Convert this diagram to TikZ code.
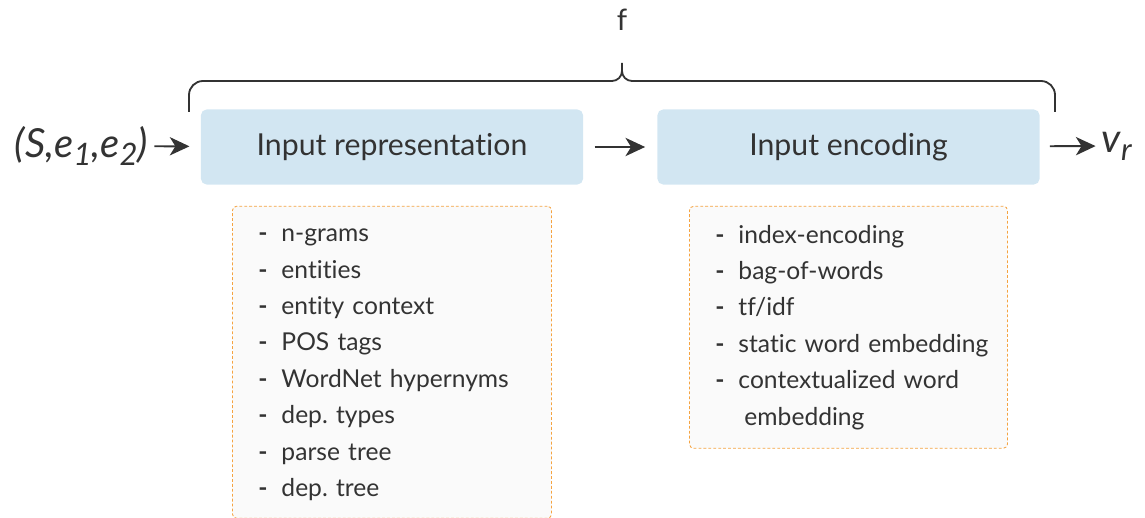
\documentclass[tikz,border=0pt]{standalone}
\usepackage{fontspec}
\setmainfont{Lato}[Ligatures=CommonOff]
\usetikzlibrary{arrows.meta,positioning}
\hyphenpenalty=10000
\frenchspacing

\definecolor{boxblue}{HTML}{D2E6F2}
\definecolor{txtgray}{HTML}{333333}
\definecolor{dashorange}{HTML}{F5A340}
\definecolor{listbg}{HTML}{FAFAFA}

\tikzset{
  mainbox/.style={fill=boxblue, rounded corners=4pt, minimum width=9.55cm,
    minimum height=1.875cm, text=txtgray, font=\fontsize{21.5}{26}\selectfont},
  listbox/.style={draw=dashorange, dashed, dash pattern=on 2pt off 1.5pt,
    line width=0.6pt, fill=listbg, rounded corners=3pt, inner xsep=0.2cm,
    align=left, text=txtgray, font=\fontsize{17.5}{25.9}\selectfont},
  arr/.style={-{Stealth[length=14pt,width=13pt,inset=4pt]}, line width=1.4pt, txtgray},
  brace/.style={line width=1.3pt, txtgray},
  termlabel/.style={text=txtgray, font=\fontsize{28.5}{32}\selectfont\itshape},
}
\newcommand{\li}{\hspace*{0.45cm}\makebox[0.575cm][l]{\textbf{-}}}
\newcommand{\subidx}[1]{\raisebox{-0.4ex}{\fontsize{22}{24}\selectfont #1}}

\begin{document}
\begin{tikzpicture}[x=0.025cm,y=-0.025cm]
	\useasboundingbox (0,0) rectangle (1145,518);

	% the two stages
	\node[mainbox] (rep) at (392,147) {Input representation};
	\node[mainbox] (enc) at (848.5,147) {Input encoding};

	% input and output
	\node[termlabel, anchor=east] (in) at (153,146) {(S,e\subidx{1},e\subidx{2})};
	\node[termlabel, anchor=west] (out) at (1097,146) {v\subidx{r}};

	\draw[arr, shorten <=1pt, shorten >=0.28cm] (in) -- (rep);
	\draw[arr, shorten <=0.28cm, shorten >=0.3cm] (rep) -- (enc);
	\draw[arr, shorten <=0.25cm, shorten >=1pt] (enc) -- (out);

	% option lists
	\node[listbox, text width=7.575cm, minimum height=7.8cm, below=0.525cm of rep] (replist) {%
		\li n-grams\vphantom{d}\\
		\li entities\\
		\li entity context\\
		\li POS tags\\
		\li WordNet hypernyms\\
		\li dep. types\\
		\li parse tree\\
		\li dep. tree};
	\node[listbox, text width=7.55cm, minimum height=6.05cm, below=0.525cm of enc] (enclist) {%
		\li index-encoding\\
		\li bag-of-words\\
		\li tf/idf\\
		\li static word embedding\\
		\li contextualized word\\
		\hspace*{1.175cm}embedding};

	% brace over both stages
	\draw[brace] (189,112) -- (189,95) arc (180:270:14) -- (612,81) arc (90:0:10) -- (622,63);
	\draw[brace] (1055,112) -- (1055,95) arc (0:-90:14) -- (632,81) arc (90:180:10);
	\node[text=txtgray, font=\fontsize{21}{24}\selectfont] (f) at (622,20) {f};
\end{tikzpicture}
\end{document}
